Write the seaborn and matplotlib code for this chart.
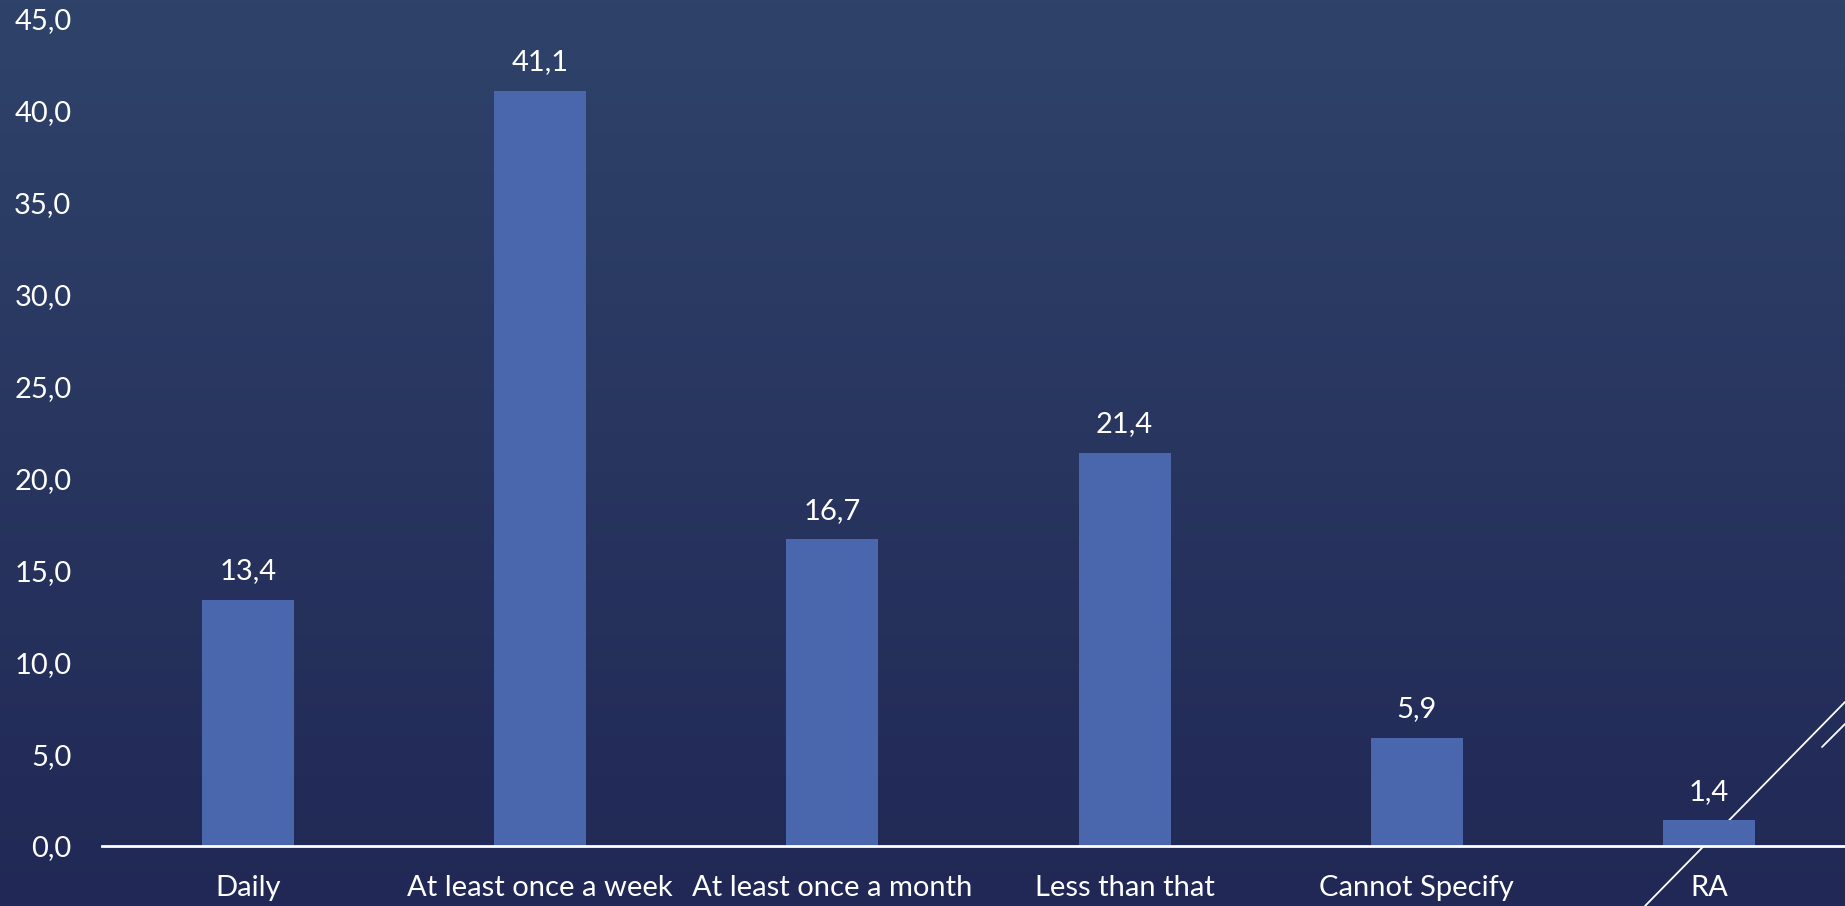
import numpy as np
import pandas as pd
import matplotlib
matplotlib.use("Agg")
import matplotlib.pyplot as plt
from matplotlib.lines import Line2D
import seaborn as sns

categories = ["Daily", "At least once a week", "At least once a month",
              "Less than that", "Cannot Specify", "RA"]
values = [13.4, 41.1, 16.7, 21.4, 5.9, 1.4]
yticks = [0, 5, 10, 15, 20, 25, 30, 35, 40, 45]

sns.set_theme(style="white")
plt.rcParams["font.family"] = ["Lato", "DejaVu Sans"]

fig = plt.figure(figsize=(18.45, 9.06), dpi=100)

# gradient background
bg = fig.add_axes([0, 0, 1, 1], zorder=0)
top = np.array([0x2f, 0x43, 0x6a]) / 255
bot = np.array([0x21, 0x28, 0x55]) / 255
t = np.linspace(0, 1, 256)[:, None]
grad = (top[None, :] * (1 - t) + bot[None, :] * t)[:, None, :]
bg.imshow(grad, aspect="auto", extent=[0, 1, 0, 1])
bg.axis("off")

ax = fig.add_axes([102 / 1845, 1 - 846 / 906, 1 - 102 / 1845, (846 - 19) / 906], zorder=1)
ax.patch.set_alpha(0)

df = pd.DataFrame({"cat": categories, "val": values})
sns.barplot(data=df, x="cat", y="val", color="#4a66ad", saturation=1,
            width=0.315, linewidth=0, ax=ax, zorder=2)

for i, v in enumerate(values):
    ax.annotate(f"{v:.1f}".replace(".", ","), (i, v), xytext=(0, 11),
                textcoords="offset points", ha="center", va="bottom",
                color="white", fontsize=21)

ax.set_xlim(-0.5, 5.466)
ax.set_ylim(0, 45)
ax.set_yticks(yticks)
ax.set_yticklabels([f"{y:.1f}".replace(".", ",") for y in yticks])
ax.tick_params(axis="y", colors="white", labelsize=21, length=0, pad=22)
ax.tick_params(axis="x", colors="white", labelsize=21, length=0, pad=21)
ax.set_xlabel("")
ax.set_ylabel("")
for s in ["top", "right", "left"]:
    ax.spines[s].set_visible(False)
ax.spines["bottom"].set_color("white")
ax.spines["bottom"].set_linewidth(2)
ax.spines["bottom"].set_zorder(3)

# decorative diagonal lines bottom right, behind the bars
fig.add_artist(Line2D([1645 / 1845, 1], [0, 1 - 702 / 906],
                      transform=fig.transFigure, color="white", lw=1.3, zorder=0.5))
fig.add_artist(Line2D([1822 / 1845, 1], [1 - 747 / 906, 1 - 724 / 906],
                      transform=fig.transFigure, color="white", lw=1.3, zorder=0.5))

fig.savefig("out.png", dpi=100)
